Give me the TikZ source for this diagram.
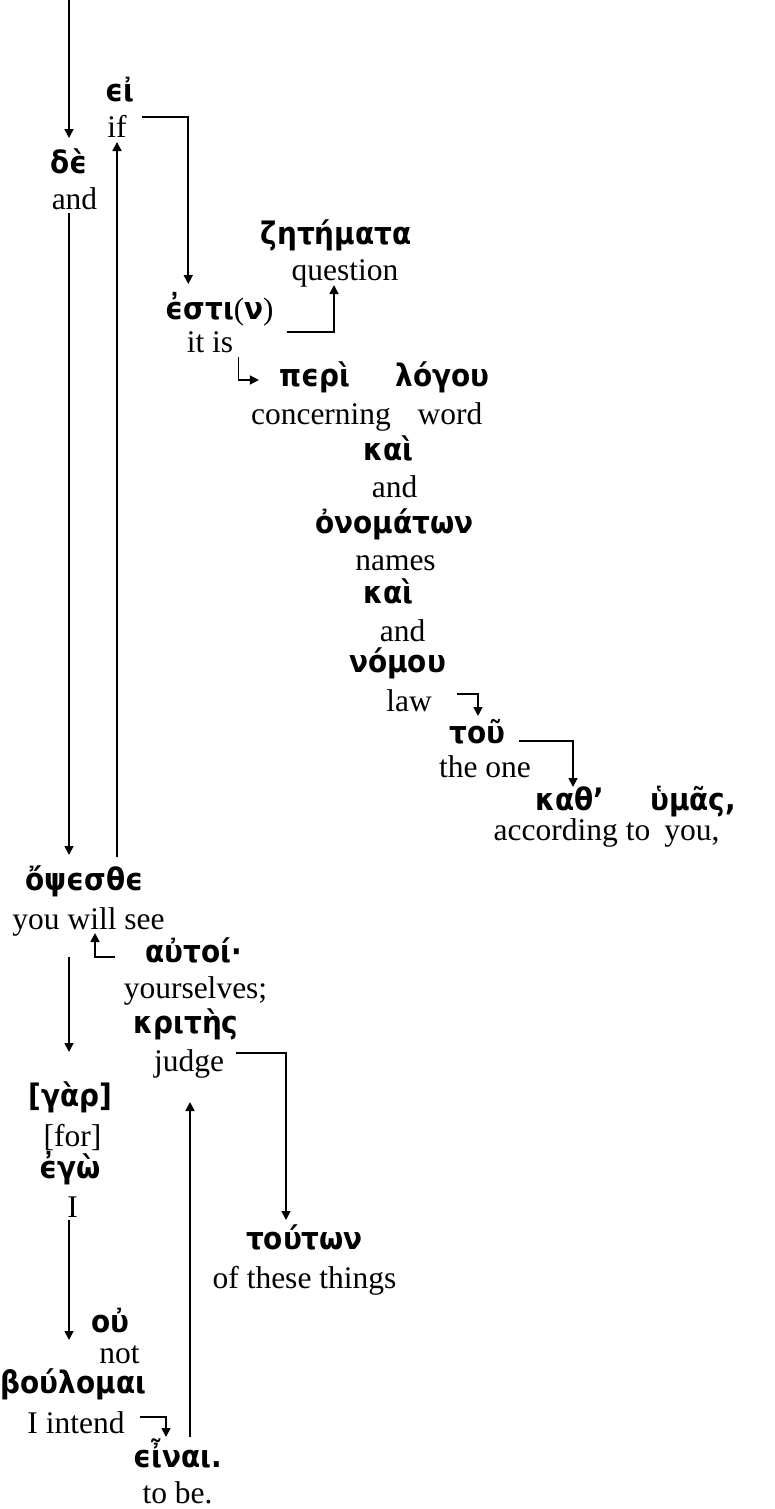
\documentclass[tikz,border=0pt]{standalone}
\usepackage{fontspec}
\setmainfont{Liberation Serif}
\newfontfamily\grk{DejaVu Sans Condensed}
\newfontfamily\tms{Liberation Serif}
\usetikzlibrary{calc,arrows.meta}

\tikzset{
  en/.style={font=\fontsize{31.5}{36}\selectfont, inner sep=0pt, anchor=base},
  gr/.style={font=\grk\bfseries\fontsize{31}{35}\selectfont, inner sep=0pt, anchor=base},
  arr/.style={line width=1.6pt, -{Triangle[width=9pt,length=9pt]}},
}

\begin{document}
\begin{tikzpicture}[x=1pt,y=-1pt]
\useasboundingbox (0,0) rectangle (775,1509);

% words: Greek above, English gloss below
\node[gr] (ei)         at (119.5,102)  {ϵἰ};
\node[en] (nIf)        at (117,137)    {if};
\node[gr] (de)         at (69,173)     {δϵ̀};
\node[en] (and1)       at (74.5,209)   {and};
\node[gr] (zet)        at (336,244)    {ζητήματα};
\node[en] (question)   at (345,280)    {question};
\node[gr] (estin)      at (219.5,319)  {ϵ̓στι{\tms\mdseries(}ν{\tms\mdseries)}};
\node[en] (itis)       at (210,352)    {it is};
\node[gr] (peri)       at (314.5,386)  {πϵρὶ};
\node[gr] (logou)      at (442.5,386)  {λόγου};
\node[en] (concerning) at (321,424)    {concerning};
\node[en] (word)       at (450,424)    {word};
\node[gr] (kai1)       at (388.5,460)  {καὶ};
\node[en] (and2)       at (394.5,497)  {and};
\node[gr] (onomaton)   at (394.5,533)  {ὀνομάτων};
\node[en] (names)      at (395.5,570)  {names};
\node[gr] (kai2)       at (388.5,603)  {καὶ};
\node[en] (and3)       at (402.5,641)  {and};
\node[gr] (nomou)      at (397.5,672)  {νόμου};
\node[en] (law)        at (409,711)    {law};
\node[gr] (tou)        at (477.5,743)  {τοῦ};
\node[en] (theone)     at (485,777)    {the one};
\node[gr] (kath)       at (570,810)    {καθ’};
\node[gr] (humas)      at (693,810)    {ὑμᾶς,};
\node[en] (according)  at (572,840)    {according to};
\node[en] (you)        at (692,840)    {you,};
\node[gr] (opsesthe)   at (84.5,890)   {ὄψϵσθϵ};
\node[en] (yws)        at (88.5,929)   {you will see};
\node[gr] (autoi)      at (193.5,962)  {αὐτοί·};
\node[en] (yourselves) at (195.5,998)  {yourselves;};
\node[gr] (krites)     at (186,1033)   {κριτὴς};
\node[en] (judge)      at (189,1071)   {judge};
\node[gr] (gar)        at (70.5,1106)  {[γὰρ]};
\node[en] (nfor)       at (72.5,1146)  {[for]};
\node[gr] (ego)        at (70,1178)    {ϵ̓γὼ};
\node[en] (nI)         at (72.5,1217)  {I};
\node[gr] (touton)     at (304.5,1249) {τούτων};
\node[en] (ofthese)    at (304.5,1288) {of these things};
\node[gr] (ou)         at (110.5,1332) {οὐ};
\node[en] (nnot)       at (119.5,1363) {not};
\node[gr] (boulomai)   at (73.5,1393)  {βούλομαι};
\node[en] (intend)     at (76,1433)    {I intend};
\node[gr] (einai)      at (177.5,1467) {ϵἶναι.};
\node[en] (tobe)       at (177.5,1503) {to be.};

% connectors
\coordinate (entry) at (69,0);
\draw[arr] (entry) -- ($(de.north)+(0,-10)$);
\draw[arr] ($(and1.base -| de.base)+(0,4)$) -- ($(opsesthe.north -| de.base)+(0,-10)$);
\draw[arr] ($(opsesthe.north -| nIf.base)+(0,-8)$) -- ($(nIf.base)+(0,5)$);
\draw[arr] ($(nIf.base east)+(15,-20)$) -| ($(estin.base west)+(23,-35)$);
\draw[arr] ($(estin.base east)+(13,13)$) -| ($(question.base)+(-11,5)$);
\draw[arr] ($(itis.base east)+(5,5)$) |- ($(peri.base west)+(-20,-6)$);
\draw[arr] ($(law.base east)+(25,-17)$) -| ($(tou.base)+(0.5,-27)$);
\draw[arr] ($(tou.base east)+(13,-2)$) -| ($(kath.base)+(3,-23)$);
\draw[arr] ($(autoi.base west)+(-30,-5)$) -| ($(yws.base)+(6.5,4)$);
\draw[arr] ($(yws.base -| de.base)+(0,28)$) -- ($(gar.base -| de.base)+(0,-54)$);
\draw[arr] ($(judge.base east)+(12,-18)$) -| ($(touton.base)+(-18.5,-29)$);
\draw[arr] ($(nI.base -| de.base)+(0,3)$) -- ($(ou.base -| de.base)+(0,8)$);
\draw[arr] ($(intend.base east)+(15,-16)$) -| ($(einai.base)+(-11.5,-30)$);
\draw[arr] ($(einai.base)+(12.5,-30)$) -- ($(judge.base)+(1,31)$);
\end{tikzpicture}
\end{document}
